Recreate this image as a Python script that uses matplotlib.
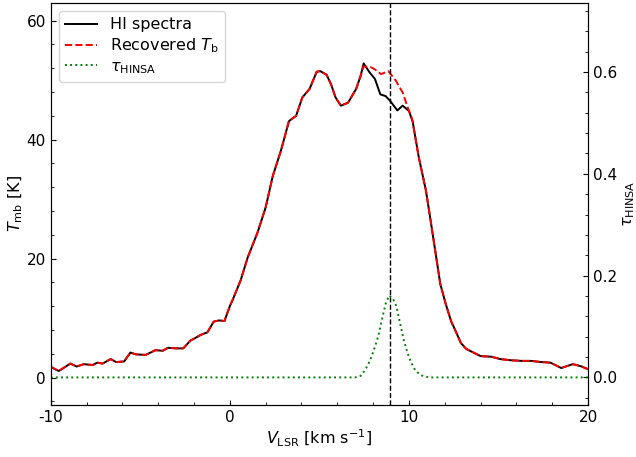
import numpy as np
import matplotlib
matplotlib.use("Agg")
import matplotlib.pyplot as plt
from matplotlib.ticker import MultipleLocator, AutoMinorLocator, FormatStrFormatter

plt.rcParams['axes.unicode_minus'] = False
plt.rcParams['font.size'] = 11.5
plt.rcParams['xtick.labelsize'] = 11
plt.rcParams['ytick.labelsize'] = 11

v_hi = np.array([-10.0, -9.55, -8.9, -8.55, -8.15, -7.65, -7.4, -7.1, -6.65, -6.35,
                 -5.9, -5.55, -5.25, -4.7, -4.15, -3.75, -3.45, -3.0, -2.6, -2.2,
                 -1.6, -1.25, -0.9, -0.6, -0.3, 0.0, 0.15, 0.6, 1.0, 1.55,
                 2.0, 2.4, 2.85, 3.3, 3.7, 4.05, 4.45, 4.6, 4.85, 5.05,
                 5.4, 5.65, 5.9, 6.2, 6.6, 7.05, 7.3, 7.47, 7.8, 8.1,
                 8.4, 8.7, 8.95, 9.35, 9.65, 10.0, 10.2, 10.55, 10.95, 11.3,
                 11.75, 12.05, 12.35, 12.65, 12.9, 13.2, 13.6, 14.0, 14.6, 15.1,
                 15.7, 16.3, 16.8, 17.4, 17.9, 18.5, 19.15, 19.6, 20.0])
t_hi = np.array([1.8, 1.1, 2.35, 1.85, 2.25, 2.1, 2.5, 2.35, 3.1, 2.6,
                 2.7, 4.2, 3.9, 3.8, 4.6, 4.5, 5.0, 4.9, 4.9, 6.2,
                 7.2, 7.6, 9.4, 9.6, 9.5, 12.0, 13.0, 16.3, 20.2, 24.4,
                 28.6, 33.9, 38.1, 43.1, 44.0, 47.1, 48.5, 49.6, 51.4, 51.5,
                 50.9, 49.3, 47.1, 45.7, 46.2, 48.5, 50.7, 52.8, 51.3, 50.2,
                 47.6, 47.3, 46.5, 44.9, 45.7, 44.8, 43.1, 37.0, 31.4, 24.6,
                 15.7, 12.4, 9.5, 7.5, 5.8, 4.8, 4.2, 3.6, 3.5, 3.1,
                 2.9, 2.8, 2.8, 2.6, 2.5, 1.6, 2.25, 1.9, 1.4])

# ---- recovered Tb where it departs from the observed spectrum ----
v_rec_seg = np.array([7.47, 7.85, 8.1, 8.44, 8.85, 9.27, 9.65, 9.93, 10.15])
t_rec_seg = np.array([52.3, 52.2, 51.8, 51.0, 51.5, 49.9, 47.9, 45.4, 43.7])

# ---- HINSA optical depth ----
v_tau = np.array([-10.0, 7.0, 7.3, 7.5, 7.7, 7.9, 8.1, 8.3, 8.5, 8.7, 8.9, 9.1,
                  9.3, 9.5, 9.7, 9.9, 10.1, 10.3, 10.5, 10.7, 10.9, 11.1, 20.0])
tau = np.array([0.0, 0.0, 0.003, 0.012, 0.024, 0.04, 0.06, 0.083, 0.115, 0.145, 0.161, 0.155,
                0.14, 0.107, 0.075, 0.05, 0.031, 0.017, 0.009, 0.004, 0.002, 0.0, 0.0])

v_hinsa = 8.93

# recovered spectrum = observed outside the HINSA window + recovered segment
outside = (v_hi < v_rec_seg[0]) | (v_hi > v_rec_seg[-1])
v_rec = np.concatenate([v_hi[outside], v_rec_seg])
t_rec = np.concatenate([t_hi[outside], t_rec_seg])
order = np.argsort(v_rec)
v_rec, t_rec = v_rec[order], t_rec[order]

fig = plt.figure(figsize=(6.36, 4.57), dpi=100)
ax = fig.add_axes([0.0797, 0.114, 0.845, 0.880])
ax2 = ax.twinx()

l1, = ax.plot(v_hi, t_hi, 'k-', lw=1.4, label='HI spectra')
l2, = ax.plot(v_rec, t_rec, 'r--', lw=1.4, label=r'Recovered $T_\mathrm{b}$')
ax.axvline(v_hinsa, color='k', ls='--', lw=1)
l3, = ax2.plot(v_tau, tau, color='green', ls=':', lw=1.4, label=r'$\tau_\mathrm{HINSA}$')

ax.set_xlim(-10, 20)
ax.set_ylim(-4.6, 63)
ax2.set_ylim(-0.054, 0.736)

ax.xaxis.set_major_locator(MultipleLocator(10))
ax.xaxis.set_minor_locator(AutoMinorLocator(5))
ax.yaxis.set_major_locator(MultipleLocator(20))
ax.yaxis.set_minor_locator(AutoMinorLocator(5))
ax2.yaxis.set_major_locator(MultipleLocator(0.2))
ax2.yaxis.set_minor_locator(AutoMinorLocator(5))
ax2.yaxis.set_major_formatter(FormatStrFormatter('%.1f'))

ax.tick_params(which='both', direction='in')
ax2.tick_params(which='both', direction='in')

ax.set_xlabel(r'$V_\mathrm{LSR}$ [km s$^{-1}$]', labelpad=2)
ax.set_ylabel(r'$T_\mathrm{mb}$ [K]', labelpad=1)
ax2.set_ylabel(r'$\tau_\mathrm{HINSA}$', labelpad=3)

ax.legend(handles=[l1, l2, l3], loc='upper left', labelspacing=0.25,
          borderpad=0.4, handlelength=2.0)

fig.savefig('out.png', dpi=100)
